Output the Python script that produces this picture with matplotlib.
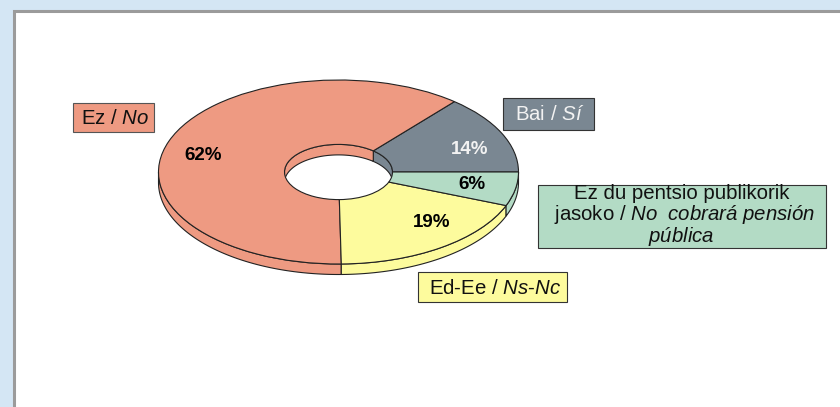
import numpy as np
import matplotlib
matplotlib.use("Agg")
import matplotlib.pyplot as plt
from matplotlib.patches import Ellipse, Polygon, Rectangle

plt.rcParams['font.family'] = ['Liberation Sans', 'DejaVu Sans']
plt.rcParams['mathtext.fontset'] = 'custom'
plt.rcParams['mathtext.it'] = 'Liberation Sans:italic'
plt.rcParams['mathtext.rm'] = 'Liberation Sans'

categories = ['Bai / Sí', 'Ez / No', 'Ed-Ee / Ns-Nc', 'Ez du pentsio publikorik jasoko / No cobrará pensión pública']
values = [14, 62, 19, 6]
pct_labels = ['14%', '62%', '19%', '6%']
colors = ['#7A8792', '#EE9A82', '#FDFB9D', '#B3DBC5']
pct_colors = ['#F2F2F2', 'black', 'black', 'black']

W, H = 840, 407
CX, CY, RX, RY = 338.5, 172.0, 180.0, 92.0
DEPTH = 10.5 / RY
HOLE = 0.30

fig = plt.figure(figsize=(W / 100, H / 100), dpi=100, facecolor='#D4E6F4')

# page frame (pixel coordinates)
bg = fig.add_axes([0, 0, 1, 1])
bg.set_xlim(0, W); bg.set_ylim(H, 0); bg.axis('off')
bg.add_patch(Rectangle((14, 10.7), 835, 410, fc='white', ec='#9B9B9B', lw=2.2))

# pie axes: one unit = the ellipse radius
ax = fig.add_axes([0, 0, 1, 1], facecolor='none')
wedges, _ = ax.pie(values, colors=colors, startangle=0, counterclock=True, radius=1.0,
                   wedgeprops=dict(width=1 - HOLE, edgecolor='#222222', linewidth=0.8, zorder=5))
ax.set_aspect('auto')
ax.set_xlim(-CX / RX, (W - CX) / RX)
ax.set_ylim((CY - H) / RY, CY / RY)
ax.axis('off')

edges = 360 * np.cumsum([0] + values) / sum(values)
LINE = dict(edgecolor='#222222', linewidth=0.8)

hole = Ellipse((0, 0), 2 * HOLE, 2 * HOLE, transform=ax.transData)

for a, b, c in zip(edges[:-1], edges[1:], colors):
    # outer wall: lower half of the rim
    lo, hi = max(a, 180), b
    if hi > lo:
        t = np.radians(np.linspace(lo, hi, 120))
        x, y = np.cos(t), np.sin(t)
        ax.add_patch(Polygon(np.r_[np.c_[x, y], np.c_[x, y - DEPTH][::-1]],
                             closed=True, facecolor=c, zorder=3, **LINE))
    # inner wall: upper half of the hole, clipped to the hole
    lo, hi = a, min(b, 180)
    if hi > lo:
        t = np.radians(np.linspace(lo, hi, 120))
        x, y = HOLE * np.cos(t), HOLE * np.sin(t)
        p = Polygon(np.r_[np.c_[x, y], np.c_[x, y - DEPTH][::-1]],
                    closed=True, facecolor=c, zorder=3, **LINE)
        ax.add_patch(p)
        p.set_clip_path(hole)

# percentage labels (pixel coordinates)
pct_pos = [(469.5, 150), (203.5, 155.5), (431.5, 222.5), (472, 185)]
for (x, y), s, c in zip(pct_pos, pct_labels, pct_colors):
    ax.text((x - CX) / RX, (CY - y) / RY, s, color=c, fontsize=13.5, fontweight='bold',
            ha='center', va='center', zorder=10)

# callout boxes (pixel coordinates)
ov = fig.add_axes([0, 0, 1, 1], facecolor='none')
ov.set_xlim(0, W); ov.set_ylim(H, 0); ov.axis('off')

boxes = [(73, 102.5, 81, 29, colors[1], '#555555'),
         (502.5, 97.5, 91, 32, colors[0], '#333333'),
         (538, 184.5, 288, 63, colors[3], '#333333'),
         (418, 271.5, 149, 30, colors[2], '#333333')]
for x, y, w, h, c, e in boxes:
    ov.add_patch(Rectangle((x, y), w, h, fc=c, ec=e, lw=0.8))

FS = 14.7
ov.text(115, 119, r'Ez / $\mathit{No}$', fontsize=FS, ha='center', va='center', color='#111111')
ov.text(550, 114, r'Bai / $\mathit{Sí}$', fontsize=FS, ha='center', va='center', color='#F2F2F2')
ov.text(682, 193.5, 'Ez du pentsio publikorik', fontsize=FS, ha='center', va='center', color='#111111')
ov.text(684, 215, r'jasoko / $\mathit{No\ \ cobrará\ pensión}$', fontsize=FS, ha='center', va='center', color='#111111')
ov.text(681, 236.5, r'$\mathit{pública}$', fontsize=FS, ha='center', va='center', color='#111111')
ov.text(494.5, 288, r'Ed-Ee / $\mathit{Ns}$-$\mathit{Nc}$', fontsize=FS, ha='center', va='center', color='#111111')

fig.savefig('out.png', dpi=100, facecolor=fig.get_facecolor())
